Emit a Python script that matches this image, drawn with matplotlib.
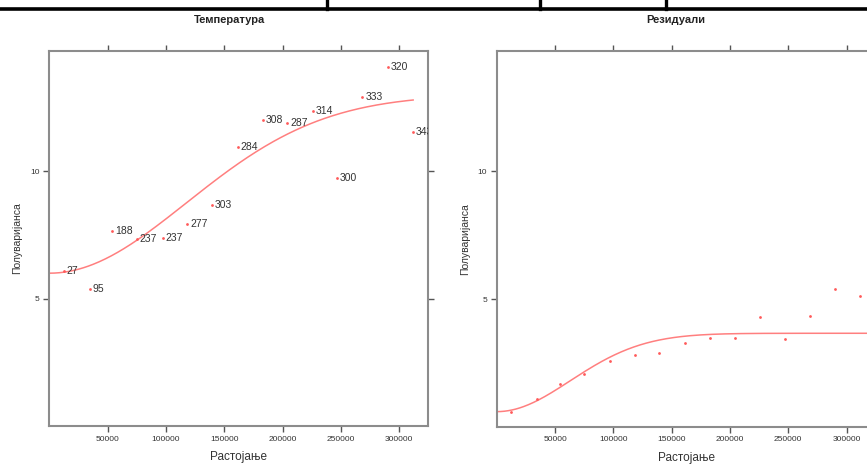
import numpy as np
import matplotlib
matplotlib.use("Agg")
import matplotlib.pyplot as plt
from matplotlib.lines import Line2D

plt.rcParams['font.family'] = ['Liberation Sans', 'DejaVu Sans']

# ---- data ----
dist = [12600, 34700, 53900, 74800, 97100, 118400, 139500, 161500,
        183000, 204000, 226000, 246900, 268500, 290400, 311800]
gamma_temp = [6.09, 5.39, 7.66, 7.36, 7.38, 7.94, 8.67, 10.97,
              12.01, 11.88, 12.37, 9.73, 12.93, 14.11, 11.54]
npairs = [27, 95, 188, 237, 237, 277, 303, 284, 308, 287, 314, 300, 333, 320, 343]
gamma_resid = [0.57, 1.09, 1.66, 2.06, 2.59, 2.79, 2.87, 3.27,
               3.47, 3.49, 4.29, 3.44, 4.32, 5.38, 5.13]

# fitted Gaussian variogram models (nugget, partial sill, range)
model_temp = (6.0, 7.0, 166000)
model_resid = (0.59, 3.07, 89000)

titles = ["Температура", "Резидуали"]
xlabel = "Растојање"
ylabel = "Полуваријанса"
xticks = [50000, 100000, 150000, 200000, 250000, 300000]
yticks = [5, 10]

W, H = 867, 465
fig = plt.figure(figsize=(W / 100, H / 100), dpi=100)

line_col = '#ff7f7f'
pt_col = '#ff5a5a'
axis_col = '#8c8c8c'


def gauss(h, m):
    n, s, r = m
    return n + s * (1 - np.exp(-(h / r) ** 2))


def setup(ax):
    ax.set_xlim(0, 325000)
    ax.set_ylim(0, 14.73)
    for sp in ax.spines.values():
        sp.set_color(axis_col)
        sp.set_linewidth(1.5)
    ax.set_xticks(xticks)
    ax.set_xticklabels([str(t) for t in xticks])
    ax.set_yticks(yticks)
    ax.set_yticklabels([str(t) for t in yticks])
    ax.tick_params(direction='out', length=4, width=1, color='#555555',
                   labelsize=6, labelcolor='#333333', pad=3,
                   top=True, right=True)
    ax.set_xlabel(xlabel, fontsize=8.5, color='#333333', labelpad=6)
    ax.set_ylabel(ylabel, fontsize=7.5, color='#333333', labelpad=5.5)


# left panel
axL = fig.add_axes([49.4 / W, (H - 426.1) / H, (428.3 - 49.4) / W, (426.1 - 50.7) / H])
setup(axL)
hL = np.linspace(0, 312000, 300)
axL.plot(hL, gauss(hL, model_temp), color=line_col, lw=1.1, zorder=2)
axL.plot(dist, gamma_temp, 'o', color=pt_col, ms=2.0, mew=0, zorder=3)
for x, y, n in zip(dist, gamma_temp, npairs):
    axL.annotate(str(n), (x, y), xytext=(2, 0), textcoords='offset points',
                 ha='left', va='center', fontsize=7.5, color='#333333',
                 annotation_clip=False, clip_on=True)

# right panel
axR = fig.add_axes([496.8 / W, (H - 426.7) / H, (428.3 - 49.4) / W, (426.7 - 50.7) / H])
setup(axR)
hR = np.linspace(0, 325000, 300)
axR.plot(hR, gauss(hR, model_resid), color=line_col, lw=1.1, zorder=2)
axR.plot(dist, gamma_resid, 'o', color=pt_col, ms=2.0, mew=0, zorder=3)

# titles
fig.text(230 / W, 1 - 20 / H, titles[0], ha='center', va='center',
         fontsize=8, fontweight='bold', color='#222222')
fig.text(676 / W, 1 - 20 / H, titles[1], ha='center', va='center',
         fontsize=8, fontweight='bold', color='#222222')

# table border fragment at top
fig.add_artist(Line2D([0, 1], [1 - 9 / H, 1 - 9 / H], color='black', lw=2.6,
                      transform=fig.transFigure))
for xv in [327, 540, 666]:
    fig.add_artist(Line2D([xv / W, xv / W], [1, 1 - 9 / H], color='black', lw=2.4,
                          transform=fig.transFigure))

fig.savefig("out.png", dpi=100)
